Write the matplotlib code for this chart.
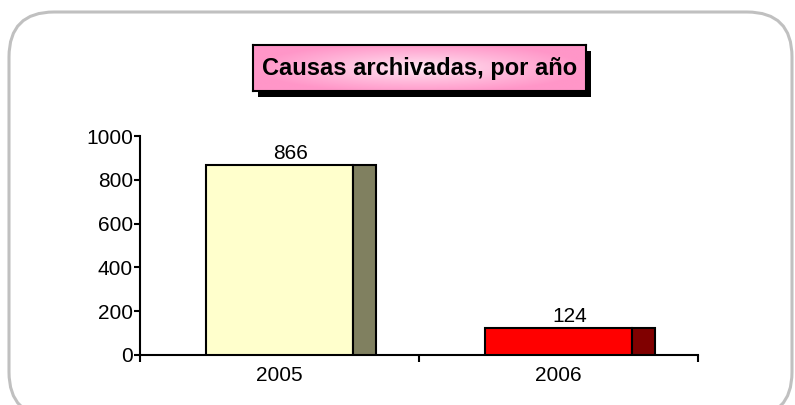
import numpy as np
import matplotlib
matplotlib.use("Agg")
from matplotlib import pyplot as plt
from matplotlib.patches import FancyBboxPatch, Rectangle
from matplotlib.transforms import IdentityTransform

plt.rcParams["font.family"] = ["Liberation Sans", "DejaVu Sans"]

years = ["2005", "2006"]
counts = [866, 124]
front_colors = ["#FFFFCC", "#FF0000"]
side_colors = ["#808060", "#800000"]
title = "Causas archivadas, por año"
y_ticks = [0, 200, 400, 600, 800, 1000]

W, H = 795, 405
fig = plt.figure(figsize=(W / 100, H / 100), dpi=100)

# outer rounded frame (pixel coordinates)
frame = FancyBboxPatch((9, -12), 783, 405, boxstyle="round,pad=0,rounding_size=45",
                       transform=IdentityTransform(), facecolor="white",
                       edgecolor="#C0C0C0", linewidth=2.2, zorder=-3)
fig.add_artist(frame)

# plot area
ax = fig.add_axes([140 / W, 50 / H, (698 - 140) / W, 219 / H])
ax.set_facecolor("none")
x = np.arange(len(years))
front_w = 0.527
side_w = 0.082
ax.bar(x, counts, width=front_w, color=front_colors, edgecolor="black", linewidth=1.5, zorder=3)
ax.bar(x + front_w / 2, counts, width=side_w, align="edge", color=side_colors,
       edgecolor="black", linewidth=1.5, zorder=3)
for xi, v in zip(x, counts):
    ax.text(xi + side_w / 2, v + 10, str(v), ha="center", va="bottom", fontsize=15)

ax.set_xlim(-0.5, len(years) - 0.5)
ax.set_ylim(0, 1000)
ax.set_yticks(y_ticks)
ax.set_xticks(x)
ax.set_xticklabels(years)
ax.set_xticks(np.arange(-0.5, len(years)), minor=True)
for s in ["top", "right"]:
    ax.spines[s].set_visible(False)
for s in ["left", "bottom"]:
    ax.spines[s].set_linewidth(1.5)
ax.tick_params(axis="y", direction="out", length=4, width=1.5, pad=1, labelsize=15)
ax.tick_params(axis="x", which="major", length=0, pad=8, labelsize=15)
ax.tick_params(axis="x", which="minor", direction="out", length=5, width=1.5)

# title box with shadow and pink gradient
bx0, by0, bx1, by1 = 253, 45, 586, 91
fig.add_artist(Rectangle((bx0 + 5, H - by1 - 6), bx1 - bx0, by1 - by0,
                         transform=IdentityTransform(), facecolor="black", zorder=-1))
tax = fig.add_axes([bx0 / W, (H - by1) / H, (bx1 - bx0) / W, (by1 - by0) / H])
u, v = np.meshgrid(np.linspace(-1, 1, 200), np.linspace(-1, 1, 60))
d = np.clip(np.sqrt(u ** 2 + (v * 0.9) ** 2), 0, 1) ** 0.8
pink = np.array([255, 150, 200]) / 255
light = np.array([255, 240, 248]) / 255
img = light[None, None, :] * (1 - d[..., None]) + pink[None, None, :] * d[..., None]
tax.imshow(img, aspect="auto", extent=[0, 1, 0, 1])
tax.set_xticks([])
tax.set_yticks([])
for s in tax.spines.values():
    s.set_linewidth(1.5)
tax.text(0.5, 0.5, title, ha="center", va="center", fontsize=17, fontweight="bold")

fig.savefig("out.png", dpi=100)
